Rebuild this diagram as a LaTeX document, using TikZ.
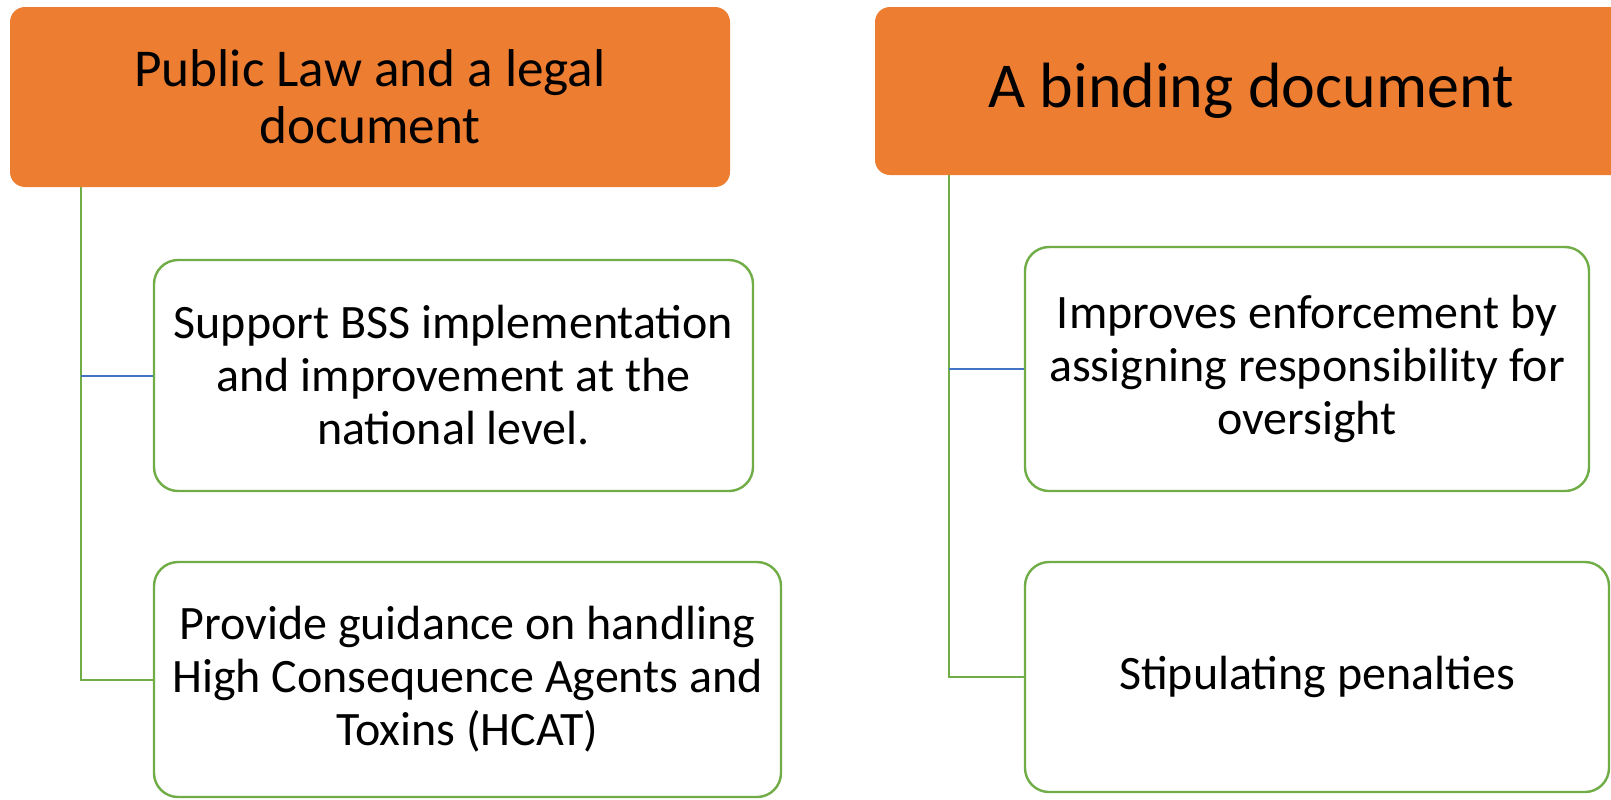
\documentclass[tikz,border=0pt]{standalone}
\usepackage{fontspec}
\setmainfont{Carlito}
\definecolor{orangefill}{HTML}{ED7D31}
\definecolor{greenline}{HTML}{70AD47}
\definecolor{blueline}{HTML}{4472C4}
\tikzset{
  headbox/.style={fill=orangefill, draw=none, rounded corners=7.5pt, inner sep=0pt, align=center, text=black},
  childbox/.style={draw=greenline, line width=1.2pt, fill=white, rounded corners=12pt, inner sep=0pt, align=center, text=black,
    font=\fontsize{24}{26.5}\selectfont},
  greenconn/.style={draw=greenline, line width=1pt},
  blueconn/.style={draw=blueline, line width=1pt}
}
\begin{document}
\begin{tikzpicture}[x=0.5pt,y=-0.5pt]
\useasboundingbox (0,0) rectangle (1611,799);
% headers
\node[headbox, minimum width=360pt, minimum height=90pt, font=\fontsize{26.6}{28.5}\selectfont] (h1) at (370,97) {Public Law and a legal\\document};
\node[headbox, minimum width=376pt, minimum height=84pt, font=\fontsize{32}{38}\selectfont] (h2) at (1251,91) {A binding document};
% children
\node[childbox, minimum width=299.5pt, minimum height=115.5pt] (c1) at (453.5,375.5) {Support BSS implementation\\and improvement at the\\national level.};
\node[childbox, minimum width=313.5pt, minimum height=117.5pt] (c2) at (467.5,679.5) {Provide guidance on handling\\High Consequence Agents and\\Toxins (HCAT)};
\node[childbox, minimum width=282pt, minimum height=122pt] (c3) at (1307,369) {Improves enforcement by\\assigning responsibility for\\oversight};
\node[childbox, minimum width=292pt, minimum height=115pt] (c4) at (1317,677) {Stipulating penalties};
% connectors
\coordinate (l1) at (81,187);
\coordinate (r1) at (949,175);
\draw[greenconn] (l1) |- (c2.west);
\draw[blueconn] (l1 |- c1.west) -- (c1.west);
\draw[greenconn] (r1) |- (c4.west);
\draw[blueconn] (r1 |- c3.west) -- (c3.west);
\end{tikzpicture}
\end{document}
